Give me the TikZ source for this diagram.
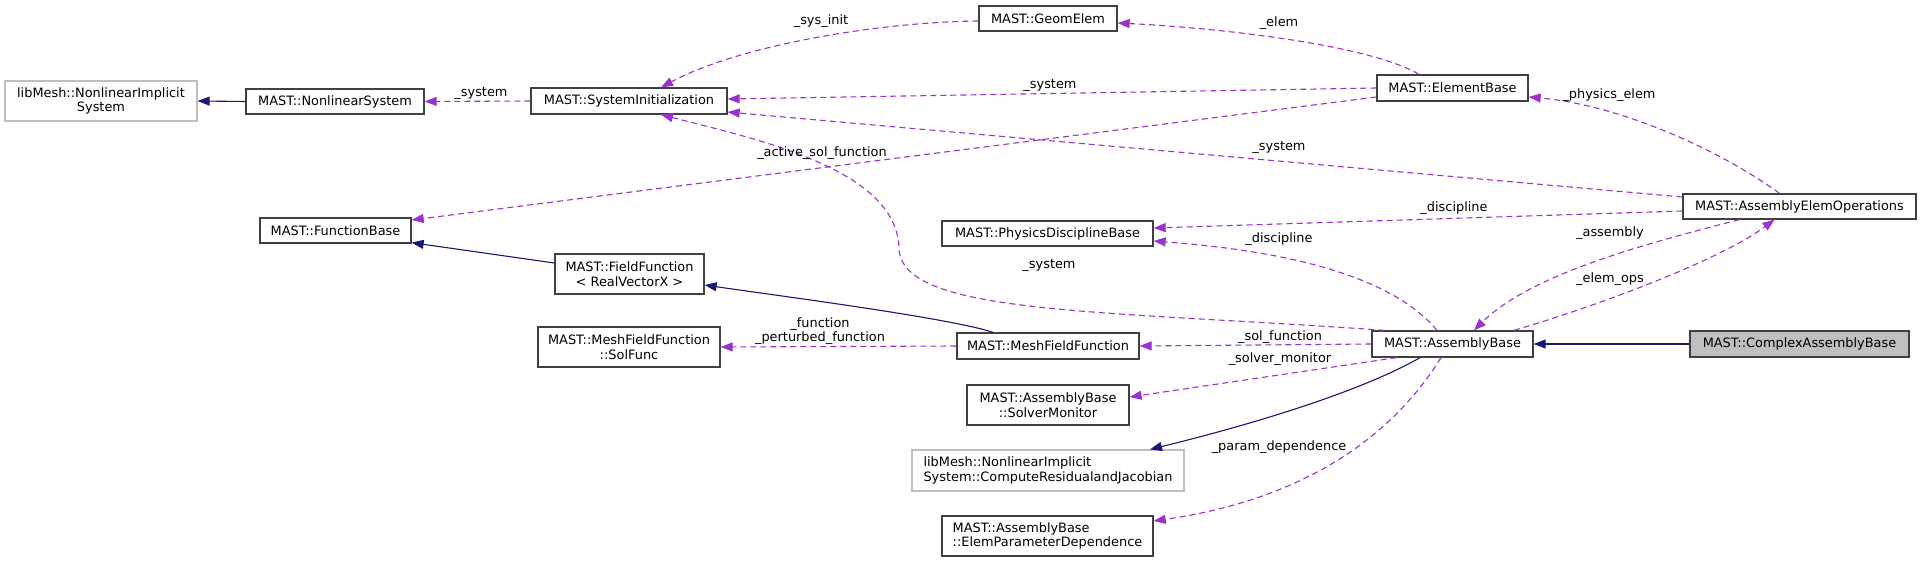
\documentclass[tikz,border=0pt]{standalone}
\usepackage{fontspec}
\setmainfont{DejaVu Sans}
\usetikzlibrary{arrows.meta,calc}
\definecolor{depc}{HTML}{9A32CD}
\definecolor{inhc}{HTML}{191970}
\definecolor{bord}{HTML}{404040}
\definecolor{lgray}{HTML}{BFBFBF}
\begin{document}
\begin{tikzpicture}[x=1pt,y=-1pt,
  every node/.style={font=\fontsize{12.9}{14.5}\selectfont},
  cls/.style={draw=bord, line width=1.3pt, fill=white, inner sep=0pt, align=center},
  ext/.style={cls, draw=lgray},
  focus/.style={cls, fill=lgray},
  lbl/.style={inner sep=0pt, align=center},
  depl/.style={draw=depc, line width=1.1pt, dash pattern=on 6pt off 4pt, -{Triangle[length=12pt,width=9pt,fill=depc]}},
  inhl/.style={draw=inhc, line width=1.1pt, -{Triangle[length=12pt,width=9pt,fill=inhc]}},
]
\useasboundingbox (0,0) rectangle (1921,562);
\fill[white] (0,0) rectangle (1921,562);

% nodes
\node[ext, minimum width=192, minimum height=40] (libnis) at (101,101) {libMesh::NonlinearImplicit\\System};
\node[cls, minimum width=178, minimum height=25] (nlsys) at (335,101.5) {MAST::NonlinearSystem};
\node[cls, minimum width=196, minimum height=26] (sysinit) at (629,101) {MAST::SystemInitialization};
\node[cls, minimum width=138, minimum height=25] (geom) at (1048,18.5) {MAST::GeomElem};
\node[cls, minimum width=151, minimum height=26] (elembase) at (1452.5,88) {MAST::ElementBase};
\node[cls, minimum width=233, minimum height=25] (aeo) at (1799.5,206.5) {MAST::AssemblyElemOperations};
\node[cls, minimum width=151, minimum height=25] (funcbase) at (335.5,230.5) {MAST::FunctionBase};
\node[cls, minimum width=211, minimum height=25] (pdb) at (1047.5,233.5) {MAST::PhysicsDisciplineBase};
\node[cls, minimum width=149, minimum height=40] (fieldfn) at (629.5,274) {MAST::FieldFunction\\< RealVectorX >};
\node[cls, minimum width=182, minimum height=40] (solfunc) at (629,347) {MAST::MeshFieldFunction\\::SolFunc};
\node[cls, minimum width=182, minimum height=26] (mff) at (1048,346) {MAST::MeshFieldFunction};
\node[cls, minimum width=161, minimum height=26] (ab) at (1452.5,344) {MAST::AssemblyBase};
\node[focus, minimum width=219, minimum height=26] (cab) at (1799.5,344) {MAST::ComplexAssemblyBase};
\node[cls, minimum width=162, minimum height=40] (solvermon) at (1048,405) {MAST::AssemblyBase\\::SolverMonitor};
\node[ext, minimum width=272, minimum height=41, align=left] (compres) at (1048,470.5) {libMesh::NonlinearImplicit\\System::ComputeResidualandJacobian};
\node[cls, minimum width=211, minimum height=40, align=left] (epd) at (1047.5,536) {MAST::AssemblyBase\\::ElemParameterDependence};

% edges
\draw[inhl] (nlsys.west) -- (libnis.east);
\draw[depl] (sysinit.west) -- (nlsys.east);
\draw[depl] ($(geom.west)+(0,2.5)$) .. controls (880,22) and (740,45) .. ($(sysinit.north)+(32,0)$);
\draw[depl] (elembase.west) -- ($(sysinit.east)+(0,-2)$);
\draw[depl] ($(aeo.west)+(0,-9.5)$) -- ($(sysinit.east)+(0,11)$);
\draw[depl] ($(elembase.west)+(0,9)$) -- ($(funcbase.east)+(0,-10.5)$);
\draw[depl] ($(elembase.north)+(-33.5,0)$) .. controls (1370,45) and (1220,28) .. ($(geom.east)+(0,4.5)$);
\draw[depl] ($(aeo.north)+(-20,0)$) .. controls (1720,150) and (1620,105) .. ($(elembase.east)+(0,9)$);
\draw[depl] ($(aeo.west)+(0,4.5)$) -- ($(pdb.east)+(0,-5.5)$);
\draw[depl] ($(ab.north)+(-15.5,0)$) .. controls (1395,280) and (1300,252) .. ($(pdb.east)+(0,7.5)$);
\draw[depl] ($(aeo.south)+(-60,0)$) .. controls (1640,245) and (1530,275) .. ($(ab.north)+(21.5,0)$);
\draw[depl] ($(ab.north)+(61.5,0)$) .. controls (1600,305) and (1720,260) .. ($(aeo.south)+(-25,0)$);
\draw[inhl] (cab.west) -- (ab.east);
\draw[inhl] ($(fieldfn.west)+(0,-11)$) -- ($(funcbase.south east)+(0,-1)$);
\draw[inhl] ($(mff.north)+(-55,0)$) .. controls (950,318) and (780,296) .. ($(fieldfn.east)+(0,11)$);
\draw[depl] (mff.west) -- (solfunc.east);
\draw[depl] (ab.west) -- (mff.east);
\draw[depl] ($(ab.south)+(-56,0)$) -- ($(solvermon.east)+(0,-8)$);
\draw[inhl] ($(ab.south)+(-32.5,0)$) .. controls (1360,392) and (1250,425) .. ($(compres.north)+(102,0)$);
\draw[depl] ($(ab.south)+(-11.5,0)$) .. controls (1390,440) and (1300,500) .. ($(epd.east)+(0,-15)$);
\draw[depl] ($(ab.north west)+(13,0)$) .. controls (1100,310) and (905,315) .. (899,250) .. controls (899,170) and (760,140) .. ($(sysinit.south)+(32,0)$);

% labels
\node[lbl] (lsys1) at (481,93) {\_system};
\node[lbl] (lsysinit) at (821,21) {\_sys\_init};
\node[lbl] (lelem) at (1279,23) {\_elem};
\node[lbl] (lsys2) at (1050,85) {\_system};
\node[lbl] (lphys) at (1609,95) {\_physics\_elem};
\node[lbl] (lactive) at (822,153) {\_active\_sol\_function};
\node[lbl] (lsys3) at (1279,147) {\_system};
\node[lbl] (ldisc1) at (1454,208) {\_discipline};
\node[lbl] (ldisc2) at (1279,239) {\_discipline};
\node[lbl] (lassembly) at (1610,233) {\_assembly};
\node[lbl] (lsys4) at (1049,265) {\_system};
\node[lbl] (lelemops) at (1610,279) {\_elem\_ops};
\node[lbl] (lfunc) at (820,331) {\_function\\\_perturbed\_function};
\node[lbl] (lsolfn) at (1280,337) {\_sol\_function};
\node[lbl] (lsolmon) at (1280,359) {\_solver\_monitor};
\node[lbl] (lparam) at (1279,447) {\_param\_dependence};
\end{tikzpicture}
\end{document}
